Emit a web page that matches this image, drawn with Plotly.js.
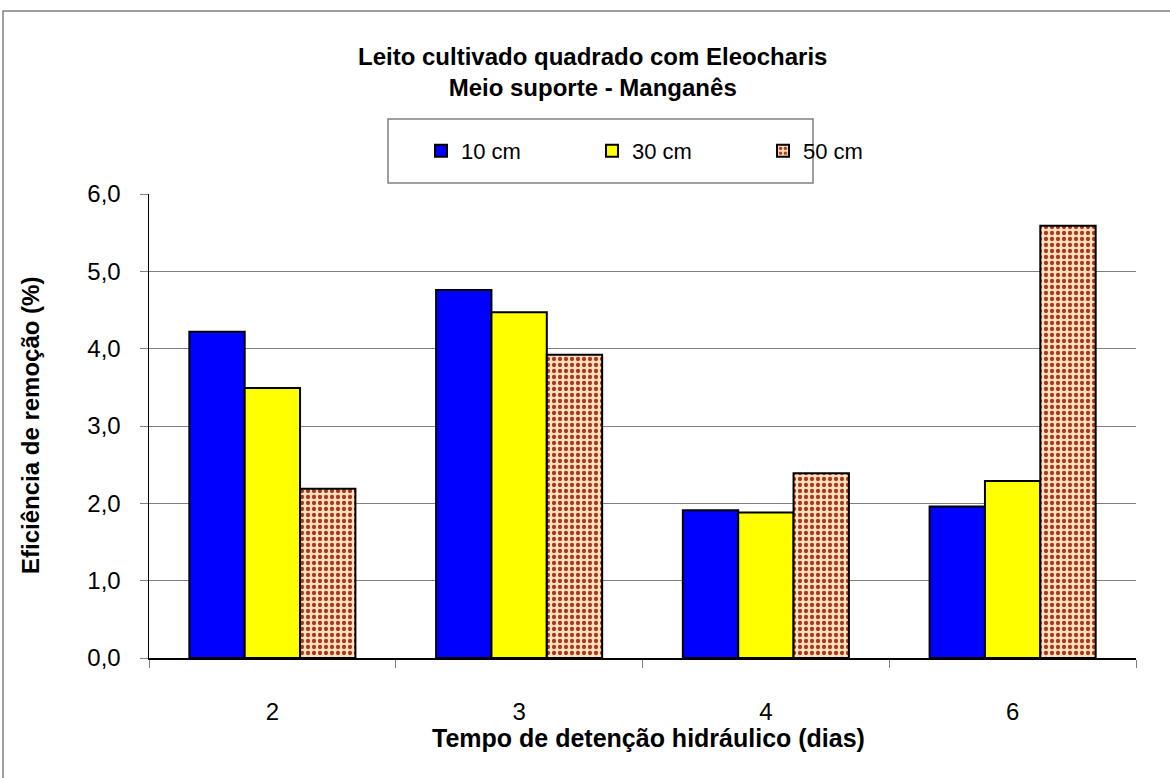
<!DOCTYPE html>
<html>
<head>
<meta charset="utf-8">
<script src="https://cdn.plot.ly/plotly-3.0.1.min.js"></script>
<style>html,body{margin:0;padding:0;background:#fff;}#chart{width:1170px;height:778px;}</style>
</head>
<body>
<div id="chart"></div>
<script>
var categories = ['2', '3', '4', '6'];
var seriesNames = ['10 cm', '30 cm', '50 cm'];
var values10 = [4.22, 4.76, 1.91, 1.96];
var values30 = [3.49, 4.47, 1.88, 2.29];
var values50 = [2.19, 3.92, 2.39, 5.59];
var yTicks = [0, 1, 2, 3, 4, 5, 6];
var titleLines = ['Leito cultivado quadrado com Eleocharis', 'Meio suporte - Manganês'];
var xTitle = 'Tempo de detenção hidráulico (dias)';
var yTitle = 'Eficiência de remoção (%)';

var FONT = 'Liberation Sans, Arial, sans-serif';
var L = 149, R = 34, T = 194, B = 120, W = 1170, H = 778;
var pw = W - L - R, ph = H - T - B;
function px2x(p) { return (p - L) / pw; }
function px2y(p) { return 1 + (T - p) / ph; }

var lineStyle = {color: '#000', width: 2};
var traces = [
  {type: 'bar', name: seriesNames[0], x: categories, y: values10,
   marker: {color: '#0000ff', line: lineStyle}},
  {type: 'bar', name: seriesNames[1], x: categories, y: values30,
   marker: {color: '#ffff00', line: lineStyle}},
  {type: 'bar', name: seriesNames[2], x: categories, y: values50,
   marker: {color: '#fde2bd', line: lineStyle,
            pattern: {shape: '.', fgcolor: '#a8381f', bgcolor: '#fde2bd', size: 6, solidity: 0.4, fillmode: 'replace'}}}
];

var layout = {
  width: W, height: H,
  margin: {l: L, r: R, t: T, b: B, pad: 0},
  paper_bgcolor: '#fff', plot_bgcolor: '#fff',
  separators: ',.',
  font: {family: FONT, color: '#000', size: 24},
  showlegend: true,
  barmode: 'group', bargap: 0.327, bargroupgap: 0,
  xaxis: {
    type: 'category', showline: true, linecolor: '#000', linewidth: 1.5,
    ticks: 'outside', tickson: 'boundaries', ticklen: 8, tickcolor: '#808080', tickwidth: 1,
    tickfont: {family: FONT, size: 24}, ticklabelstandoff: 32,
    showgrid: false, zeroline: false, fixedrange: true
  },
  yaxis: {
    range: [0, 6], tickvals: yTicks, tickformat: '.1f',
    showline: true, linecolor: '#000', linewidth: 1.5,
    ticks: 'outside', ticklen: 8, tickcolor: '#808080', tickwidth: 1,
    tickfont: {family: FONT, size: 24}, ticklabelstandoff: 14,
    showgrid: true, gridcolor: '#808080', gridwidth: 1, zeroline: false, fixedrange: true
  },
  legend: {
    orientation: 'h', x: px2x(421), xanchor: 'left', y: px2y(151), yanchor: 'middle',
    bgcolor: 'rgba(0,0,0,0)', borderwidth: 0,
    font: {family: FONT, size: 22}, entrywidth: 126, entrywidthmode: 'pixels',
    itemwidth: 30, traceorder: 'normal'
  },
  shapes: [
    {type: 'rect', xref: 'paper', yref: 'paper', x0: px2x(3), x1: px2x(1300), y0: px2y(900), y1: px2y(11),
     line: {color: '#808080', width: 1.5}, fillcolor: 'rgba(0,0,0,0)', layer: 'below'},
    {type: 'rect', xref: 'paper', yref: 'paper', x0: px2x(388), x1: px2x(813), y0: px2y(183), y1: px2y(119),
     line: {color: '#808080', width: 1.5}, fillcolor: '#fff', layer: 'below'}
  ],
  annotations: [
    {xref: 'paper', yref: 'paper', x: px2x(592), y: px2y(72), xanchor: 'center', yanchor: 'middle',
     text: '<b>' + titleLines.join('<br>') + '</b>', showarrow: false,
     font: {family: FONT, size: 24}},
    {xref: 'paper', yref: 'paper', x: px2x(648), y: px2y(738), xanchor: 'center', yanchor: 'middle',
     text: '<b>' + xTitle + '</b>', showarrow: false, font: {family: FONT, size: 25}},
    {xref: 'paper', yref: 'paper', x: px2x(30), y: px2y(426), xanchor: 'center', yanchor: 'middle',
     text: '<b>' + yTitle + '</b>', showarrow: false, textangle: -90, font: {family: FONT, size: 24}}
  ]
};

Plotly.newPlot('chart', traces, layout, {displayModeBar: false, staticPlot: true});
</script>
</body>
</html>
